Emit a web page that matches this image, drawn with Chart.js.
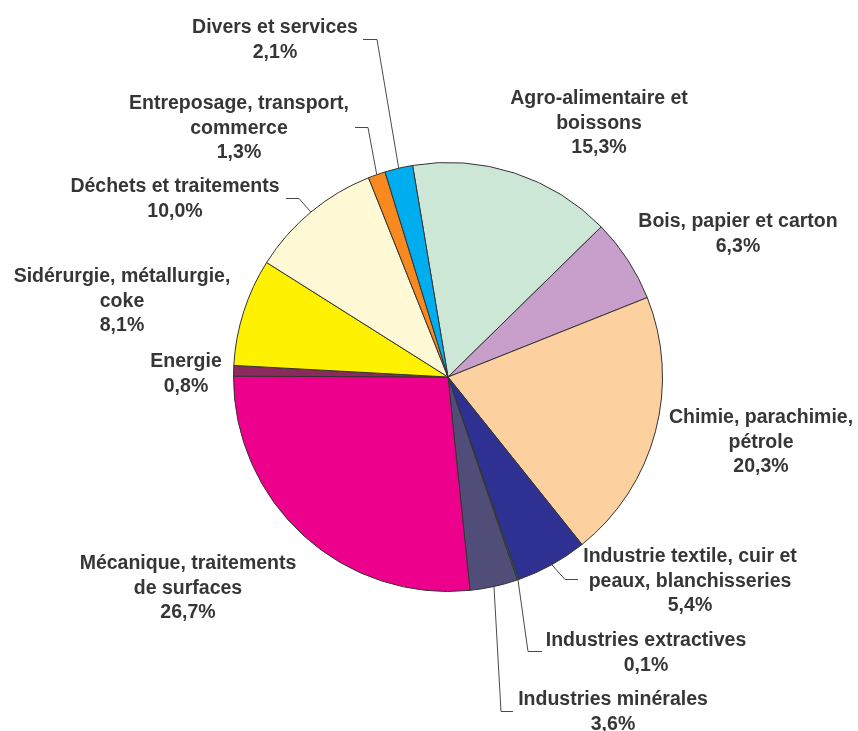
<!DOCTYPE html>
<html>
<head>
<meta charset="utf-8">
<script src="https://cdn.jsdelivr.net/npm/chart.js@4.4.1/dist/chart.umd.min.js"></script>
<style>
  html, body { margin: 0; padding: 0; background: #ffffff; }
  #pieChart { display: block; }
</style>
</head>
<body>
<canvas id="pieChart" width="858" height="731"></canvas>
<script>
// Sectors, clockwise from the top (label lines split with \n)
const categories = [
  'Agro-alimentaire et\nboissons',
  'Bois, papier et carton',
  'Chimie, parachimie,\npétrole',
  'Industrie textile, cuir et\npeaux, blanchisseries',
  'Industries extractives',
  'Industries minérales',
  'Mécanique, traitements\nde surfaces',
  'Energie',
  'Sidérurgie, métallurgie,\ncoke',
  'Déchets et traitements',
  'Entreposage, transport,\ncommerce',
  'Divers et services'
];
const shares = [15.3, 6.3, 20.3, 5.4, 0.1, 3.6, 26.7, 0.8, 8.1, 10.0, 1.3, 2.1];
const sliceColors = [
  '#cde7d7', '#c89fcb', '#fcd09f', '#2e3192', '#00a651', '#514d79',
  '#ec008c', '#8c2a5c', '#fff200', '#fff9d6', '#f7891f', '#00aeef'
];

// Label placement (first baseline) and optional leader elbows
const labelLayout = [
  { x: 599, y: 104 },
  { x: 738, y: 227 },
  { x: 761, y: 423 },
  { x: 690, y: 562, leader: [[578, 579], [565, 579]] },
  { x: 646, y: 646, leader: [[542, 651], [528, 651]] },
  { x: 613, y: 705, leader: [[513, 711], [501, 711]] },
  { x: 188, y: 569 },
  { x: 186, y: 367 },
  { x: 122, y: 282 },
  { x: 175, y: 192, leader: [[286, 198], [299, 198]] },
  { x: 239, y: 109, leader: [[355, 127], [368, 127]] },
  { x: 275, y: 33, leader: [[363, 39], [377, 39]] }
];

function formatShare(v) {
  return v.toFixed(1).replace('.', ',') + '%';
}

// Draws outside labels and leader lines from each arc's geometry
const outsideLabels = {
  id: 'outsideLabels',
  afterDatasetsDraw(chart) {
    const ctx = chart.ctx;
    const meta = chart.getDatasetMeta(0);
    ctx.save();
    meta.data.forEach((arc, i) => {
      const p = arc.getProps(['x', 'y', 'startAngle', 'endAngle', 'outerRadius'], true);
      const mid = (p.startAngle + p.endAngle) / 2;
      const edgeX = p.x + Math.cos(mid) * p.outerRadius;
      const edgeY = p.y + Math.sin(mid) * p.outerRadius;
      const lay = labelLayout[i];

      if (lay.leader) {
        ctx.strokeStyle = '#4a4a4a';
        ctx.lineWidth = 1;
        ctx.beginPath();
        ctx.moveTo(lay.leader[0][0], lay.leader[0][1] + 0.5);
        ctx.lineTo(lay.leader[1][0], lay.leader[1][1] + 0.5);
        ctx.lineTo(edgeX, edgeY);
        ctx.stroke();
      }

      const lines = categories[i].split('\n').concat(formatShare(shares[i]));
      ctx.fillStyle = '#363636';
      ctx.font = 'bold 19.5px "Liberation Sans", Arial, sans-serif';
      ctx.textAlign = 'center';
      ctx.textBaseline = 'alphabetic';
      lines.forEach((line, k) => {
        ctx.fillText(line, lay.x, lay.y + k * 24.7);
      });
    });
    ctx.restore();
  }
};

const chart = new Chart(document.getElementById('pieChart').getContext('2d'), {
  type: 'pie',
  data: {
    labels: categories,
    datasets: [{
      data: shares,
      backgroundColor: sliceColors,
      borderColor: '#333333',
      borderWidth: 1
    }]
  },
  options: {
    responsive: false,
    animation: false,
    rotation: -9.5,
    layout: { padding: { left: 233, right: 195, top: 162, bottom: 139 } },
    plugins: {
      legend: { display: false },
      tooltip: { enabled: false }
    }
  },
  plugins: [outsideLabels]
});
</script>
</body>
</html>
